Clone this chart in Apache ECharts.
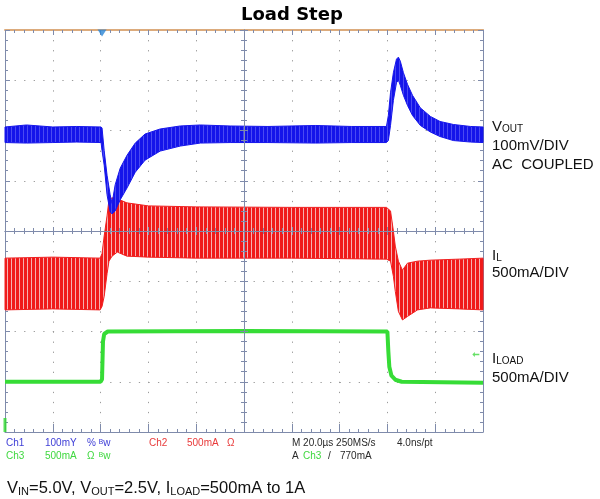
<!DOCTYPE html>
<html><head><meta charset="utf-8">
<script src="https://cdn.jsdelivr.net/npm/echarts@6/dist/echarts.min.js"></script>
<style>html,body{margin:0;padding:0;background:#fff}#c{width:600px;height:499px}</style>
</head><body><div id="c"></div>
<script>
// Time in µs (20 µs/div, 10 div). Amplitudes in screen divisions (-4 .. 4, 8 div).
const blueT  = [0, 9, 20, 30, 40.2, 40.6, 41.5, 42.7, 44.0, 44.8, 46.1, 48.2, 51.1, 54.5, 58.6, 64.9, 73.3, 81.7, 94.2, 110, 130, 145, 159.6, 160.4, 161.3, 162.5, 163.8, 164.6, 165.4, 166.7, 168.4, 170.5, 173.8, 178.0, 182.0, 187.6, 194.8, 200];
const blueHi = [2.07, 2.11, 2.07, 2.08, 2.07, 2.05, 1.60, 1.11, 0.72, 0.55, 0.92, 1.25, 1.51, 1.75, 1.93, 2.03, 2.09, 2.11, 2.09, 2.08, 2.10, 2.08, 2.08, 2.30, 2.75, 3.15, 3.42, 3.46, 3.38, 3.15, 2.92, 2.70, 2.45, 2.28, 2.18, 2.12, 2.08, 2.07];
const blueLo = [1.76, 1.75, 1.76, 1.77, 1.76, 1.60, 1.31, 0.72, 0.38, 0.34, 0.40, 0.62, 0.86, 1.17, 1.41, 1.59, 1.69, 1.75, 1.76, 1.76, 1.75, 1.76, 1.76, 1.80, 2.10, 2.60, 2.95, 3.00, 2.90, 2.70, 2.50, 2.30, 2.10, 1.97, 1.88, 1.80, 1.77, 1.76];

const redT  = [0, 20, 39.8, 40.6, 41.5, 42.7, 43.5, 44.8, 47.0, 51.0, 60, 80, 120, 159.6, 161.3, 162.5, 163.3, 164.6, 166.3, 168.4, 172.6, 178, 190, 200];
const redHi = [-0.54, -0.52, -0.54, -0.45, -0.10, 0.30, 0.62, 0.66, 0.64, 0.56, 0.50, 0.48, 0.47, 0.47, 0.40, 0.00, -0.30, -0.60, -0.78, -0.64, -0.60, -0.58, -0.56, -0.54];
const redLo = [-1.57, -1.55, -1.57, -1.50, -1.30, -0.85, -0.60, -0.50, -0.42, -0.50, -0.52, -0.54, -0.54, -0.56, -0.60, -0.90, -1.20, -1.60, -1.77, -1.70, -1.57, -1.53, -1.55, -1.57];

const greenT = [0, 40.0, 40.6, 41.0, 41.5, 43.0, 100, 160.0, 160.4, 160.8, 161.7, 163.3, 166, 200];
const greenV = [-3.00, -3.00, -2.95, -2.20, -2.05, -2.00, -1.99, -2.00, -2.40, -2.70, -2.88, -2.96, -3.00, -3.02];

const triggerT = 40.6;      // trigger position (µs)
const trigLevel = -2.46;    // Ch3 trigger level 770mA in divisions
const ch3Ground = -4;       // Ch3 ground marker

const axisCol = '#7f8bab';
function stripes(c1, c2, w1, w2) {
  const cv = document.createElement('canvas');
  cv.width = w1 + w2; cv.height = 4;
  const g = cv.getContext('2d');
  g.fillStyle = c1; g.fillRect(0, 0, w1, 4);
  g.fillStyle = c2; g.fillRect(w1, 0, w2, 4);
  return cv;
}
function bandSeries(t, hi, lo, fill, stroke, z) {
  return {
    type: 'custom', coordinateSystem: 'cartesian2d', silent: true, z: z,
    data: t.map((x, i) => [x, hi[i], lo[i]]),
    encode: { x: 0, y: [1, 2] },
    renderItem(params, api) {
      if (params.dataIndexInside !== 0) return null;
      const n = params.dataInsideLength;
      const pts = [];
      for (let j = 0; j < n; j++) pts.push(api.coord([api.value(0, j), api.value(1, j)]));
      for (let j = n - 1; j >= 0; j--) pts.push(api.coord([api.value(0, j), api.value(2, j)]));
      return { type: 'polygon', shape: { points: pts }, style: { fill: fill, stroke: stroke, lineWidth: 1 } };
    }
  };
}
function xa(extra) {
  return Object.assign({
    type: 'value', min: 0, max: 200, interval: 20,
    axisLabel: { show: false }, splitLine: { show: false },
    axisLine: { show: true, onZero: false, lineStyle: { color: axisCol, width: 1 } },
    axisTick: { show: true, inside: true, length: 7, lineStyle: { color: axisCol } },
    minorTick: { show: true, splitNumber: 5, length: 3, lineStyle: { color: axisCol } }
  }, extra);
}
function ya(extra) {
  return Object.assign({
    type: 'value', min: -4, max: 4, interval: 1,
    axisLabel: { show: false }, splitLine: { show: false },
    axisLine: { show: true, onZero: false, lineStyle: { color: axisCol, width: 1 } },
    axisTick: { show: true, inside: true, length: 5, lineStyle: { color: axisCol } },
    minorTick: { show: true, splitNumber: 5, length: 3, lineStyle: { color: axisCol } }
  }, extra);
}
const W = 478, H = 402;
const chart = echarts.init(document.getElementById('c'), null, { renderer: 'canvas' });
const lab = 'Liberation Sans, Arial, sans-serif';
const sm = (txt, x, y, col) => ({ type: 'text', left: x, top: y, silent: true,
  style: { text: txt, fill: col, font: '10px ' + lab } });
const blueTxt = '#3d3dd6', greenTxt = '#3fd83f', redTxt = '#e83a3a', darkTxt = '#2a2a2a';
const rich = {
  m: { fontSize: 15, fontFamily: lab, lineHeight: 15, verticalAlign: 'bottom', fill: '#111' },
  s: { fontSize: 10, fontFamily: lab, lineHeight: 11, verticalAlign: 'bottom', fill: '#111' }
};
const rt = (txt, x, y) => ({ type: 'text', left: x, top: y, silent: true,
  style: { text: txt, rich: rich, fill: '#111', font: '15px ' + lab } });

chart.setOption({
  animation: false,
  backgroundColor: '#fff',
  grid: { left: 5, top: 30, width: W, height: H, containLabel: false, outerBoundsMode: 'none' },
  xAxis: [
    xa({ position: 'bottom', axisTick: { show: true, inside: true, length: 8, lineStyle: { color: axisCol } },
         splitLine: { show: true, lineStyle: { color: '#9c9c9c', width: 1, type: [1.3, 8.75] } } }),
    xa({ position: 'top', axisLine: { show: true, onZero: false, lineStyle: { color: '#dcab7c', width: 2 } },
         axisTick: { show: true, inside: true, length: 5, lineStyle: { color: axisCol } } }),
    xa({ position: 'bottom', offset: -H / 2, z: 5, axisTick: { show: true, inside: true, length: 4, lineStyle: { color: axisCol } },
         minorTick: { show: true, splitNumber: 5, length: 3, lineStyle: { color: axisCol } } }),
    xa({ position: 'bottom', offset: -H / 2, z: 5, axisTick: { show: true, inside: false, length: 4, lineStyle: { color: axisCol } },
         minorTick: { show: true, splitNumber: 5, length: 3, lineStyle: { color: axisCol } } })
  ],
  yAxis: [
    ya({ position: 'left', splitLine: { show: true, lineStyle: { color: '#9c9c9c', width: 1, type: [1.3, 8.26] } } }),
    ya({ position: 'right' }),
    ya({ position: 'left', offset: -W / 2, z: 5, axisTick: { show: true, inside: true, length: 4, lineStyle: { color: axisCol } } }),
    ya({ position: 'left', offset: -W / 2, z: 5, axisTick: { show: true, inside: false, length: 4, lineStyle: { color: axisCol } } })
  ],
  series: [
    bandSeries(redT, redHi, redLo, { image: stripes('#f01a1a', '#f6b0b0', 3, 1), repeat: 'repeat' }, '#f02020', 2),
    bandSeries(blueT, blueHi, blueLo, { image: stripes('#1414ea', '#4a4af2', 3, 1), repeat: 'repeat' }, '#1616ec', 3),
    { type: 'line', data: greenT.map((x, i) => [x, greenV[i]]), symbol: 'none', silent: true, z: 3,
      lineStyle: { color: '#36dc36', width: 4 } },
    { type: 'scatter', data: [[triggerT, 4]], symbol: 'triangle', symbolRotate: 180, symbolSize: [9, 7],
      symbolOffset: [0, 3], itemStyle: { color: '#2a86d6' }, silent: true, clip: false, z: 6 },
    { type: 'scatter', data: [[197, trigLevel]], symbol: 'path://M0,5 L5,0 L5,3.5 L14,3.5 L14,6.5 L5,6.5 L5,10 Z',
      symbolSize: [7, 5], itemStyle: { color: '#3fd83f' }, silent: true, clip: false, z: 6 },
    { type: 'scatter', data: [[0, ch3Ground]], symbol: 'rect', symbolSize: [3, 14], symbolOffset: [0, -7],
      itemStyle: { color: '#2ed82e' }, silent: true, clip: false, z: 6 }
  ],
  graphic: [
    { type: 'text', left: 241, top: 6, silent: true, style: { text: 'Load Step', fill: '#000', font: 'bold 18px DejaVu Sans' } },
    rt('{m|V}{s|OUT}', 492, 119),
    { type: 'text', left: 492, top: 136, silent: true, style: { text: '100mV/DIV\nAC  COUPLED', fill: '#111', font: '15px ' + lab, lineHeight: 19 } },
    rt('{m|I}{s|L}', 492, 248),
    { type: 'text', left: 492, top: 265, silent: true, style: { text: '500mA/DIV', fill: '#111', font: '15px ' + lab } },
    rt('{m|I}{s|LOAD}', 492, 351),
    { type: 'text', left: 492, top: 370, silent: true, style: { text: '500mA/DIV', fill: '#111', font: '15px ' + lab } },
    { type: 'text', left: 7, top: 480, silent: true, style: {
      text: '{m|V}{s|IN}{m|=5.0V, V}{s|OUT}{m|=2.5V, I}{s|LOAD}{m|=500mA to 1A}',
      rich: { m: { fontSize: 16.5, fontFamily: lab, lineHeight: 16, verticalAlign: 'bottom', fill: '#111' },
              s: { fontSize: 11, fontFamily: lab, lineHeight: 12, verticalAlign: 'bottom', fill: '#111' } } } },
    sm('Ch1', 6, 438, blueTxt), sm('100mY', 45, 438, blueTxt), sm('%', 87, 438, blueTxt), sm('ᴮw', 99, 438, blueTxt),
    sm('Ch2', 149, 438, redTxt), sm('500mA', 187, 438, redTxt), sm('Ω', 227, 438, redTxt),
    sm('M 20.0µs 250MS/s', 292, 438, darkTxt), sm('4.0ns/pt', 397, 438, darkTxt),
    sm('Ch3', 6, 451, greenTxt), sm('500mA', 45, 451, greenTxt), sm('Ω', 87, 451, greenTxt), sm('ᴮw', 99, 451, greenTxt),
    sm('A', 292, 451, darkTxt), sm('Ch3', 303, 451, greenTxt), sm('/', 328, 451, darkTxt), sm('770mA', 340, 451, darkTxt)
  ]
});
</script></body></html>
